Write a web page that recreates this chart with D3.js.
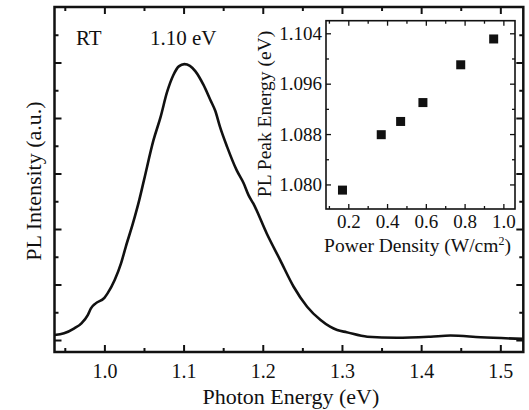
<!DOCTYPE html>
<html>
<head>
<meta charset="utf-8">
<script src="https://cdn.jsdelivr.net/npm/d3@7"></script>
<style>
  body { margin: 0; background: #fff; }
  text { font-family: "Liberation Serif", "Times New Roman", serif; fill: #111; }
</style>
</head>
<body>
<script>
// PL spectrum (photon energy in eV, intensity in arb. units)
var energy = [0.937, 0.949, 0.962, 0.971, 0.979, 0.983, 0.989, 1.000, 1.004, 1.013, 1.021, 1.027,
  1.036, 1.044, 1.050, 1.062, 1.071, 1.079, 1.087, 1.094, 1.101, 1.108, 1.115, 1.125, 1.134,
  1.140, 1.146, 1.155, 1.167, 1.176, 1.182, 1.188, 1.205, 1.222, 1.239, 1.256, 1.273, 1.285,
  1.294, 1.306, 1.332, 1.369, 1.412, 1.437, 1.475, 1.529];
var intensity = [0.09, 0.12, 0.21, 0.30, 0.45, 0.57, 0.66, 0.76, 0.84, 1.08, 1.38, 1.68,
  2.10, 2.52, 2.88, 3.60, 4.02, 4.46, 4.77, 4.93, 4.97, 4.94, 4.84, 4.60, 4.32,
  4.13, 3.84, 3.48, 3.06, 2.82, 2.61, 2.46, 1.92, 1.44, 0.96, 0.60, 0.36, 0.24,
  0.18, 0.14, 0.06, 0.04, 0.06, 0.08, 0.05, 0.02];

// inset: PL peak energy vs excitation power density
var power = [0.17, 0.37, 0.47, 0.585, 0.78, 0.95];
var peakEnergy = [1.0791, 1.0879, 1.0900, 1.0930, 1.0990, 1.1031];

var xMajor = [1.0, 1.1, 1.2, 1.3, 1.4, 1.5];
var xMinor = [0.95, 1.05, 1.15, 1.25, 1.35, 1.45];
var yMajor = [0, 1, 2, 3, 4, 5];
var yMinor = [0.5, 1.5, 2.5, 3.5, 4.5, 5.5];
var insetXMajor = [0.2, 0.4, 0.6, 0.8, 1.0];
var insetXMinor = [0.1, 0.3, 0.5, 0.7, 0.9];
var insetYMajor = [1.080, 1.088, 1.096, 1.104];
var insetYMinor = [1.084, 1.092, 1.100];

var w = 529, h = 410;
var svg = d3.select("body").append("svg").attr("width", w).attr("height", h);

// main plot
var pL = 54.5, pR = 523.3, pT = 7, pB = 352;
var x = d3.scaleLinear().domain([0.937, 1.529]).range([pL, pR]);
var y = d3.scaleLinear().domain([-0.216, 6]).range([pB, pT]);

function ticks(g, axis, vals, size, pad) {
  g.call(axis.tickValues(vals).tickSize(-size).tickPadding(pad || 3))
    .call(function(s) { s.select(".domain").remove(); })
    .selectAll("line").attr("stroke", "#111").attr("stroke-width", 2);
}

var gx = svg.append("g").attr("transform", "translate(0," + pB + ")");
ticks(gx, d3.axisBottom(x).tickFormat(d3.format(".1f")), xMajor, 7, 11.5);
gx.selectAll("text").style("font-size", "20px");
ticks(svg.append("g").attr("transform", "translate(0," + pB + ")"), d3.axisBottom(x).tickFormat(""), xMinor, 4);
ticks(svg.append("g").attr("transform", "translate(0," + pT + ")"), d3.axisTop(x).tickFormat(""), xMajor, 7);
ticks(svg.append("g").attr("transform", "translate(0," + pT + ")"), d3.axisTop(x).tickFormat(""), xMinor, 4);
ticks(svg.append("g").attr("transform", "translate(" + pL + ",0)"), d3.axisLeft(y).tickFormat(""), yMajor, 7);
ticks(svg.append("g").attr("transform", "translate(" + pL + ",0)"), d3.axisLeft(y).tickFormat(""), yMinor, 4);
ticks(svg.append("g").attr("transform", "translate(" + pR + ",0)"), d3.axisRight(y).tickFormat(""), yMajor, 7);
ticks(svg.append("g").attr("transform", "translate(" + pR + ",0)"), d3.axisRight(y).tickFormat(""), yMinor, 4);

svg.append("path")
  .datum(energy.map(function(e, i) { return [e, intensity[i]]; }))
  .attr("d", d3.line().x(function(d) { return x(d[0]); }).y(function(d) { return y(d[1]); }).curve(d3.curveMonotoneX))
  .attr("fill", "none").attr("stroke", "#111").attr("stroke-width", 2.6);

svg.append("rect").attr("x", pL).attr("y", pT).attr("width", pR - pL).attr("height", pB - pT)
  .attr("fill", "none").attr("stroke", "#111").attr("stroke-width", 2.5);

svg.append("text").attr("x", (pL + pR) / 2 + 2).attr("y", 404).attr("text-anchor", "middle")
  .style("font-size", "22px").text("Photon Energy (eV)");
svg.append("text").attr("transform", "translate(41,181) rotate(-90)").attr("text-anchor", "middle")
  .style("font-size", "22px").text("PL Intensity (a.u.)");
svg.append("text").attr("x", 76).attr("y", 45).style("font-size", "21px").text("RT");
svg.append("text").attr("x", 150).attr("y", 45).style("font-size", "21px").text("1.10 eV");

// inset
var iL = 326, iR = 515, iT = 20.7, iB = 209;
var ix = d3.scaleLinear().domain([0.085, 1.06]).range([iL, iR]);
var iy = d3.scaleLinear().domain([1.0761, 1.106]).range([iB, iT]);
var inset = svg.append("g");

function iticks(g, axis, vals, size, pad) {
  g.call(axis.tickValues(vals).tickSize(-size).tickPadding(pad || 3))
    .call(function(s) { s.select(".domain").remove(); })
    .selectAll("line").attr("stroke", "#111").attr("stroke-width", 1.3);
}

var iMinor = insetXMinor.filter(function(v) { return v > 0.09; });
var igx = inset.append("g").attr("transform", "translate(0," + iB + ")");
iticks(igx, d3.axisBottom(ix).tickFormat(d3.format(".1f")), insetXMajor, 5, 5.5);
igx.selectAll("text").style("font-size", "19px");
iticks(inset.append("g").attr("transform", "translate(0," + iB + ")"), d3.axisBottom(ix).tickFormat(""), iMinor, 3);
iticks(inset.append("g").attr("transform", "translate(0," + iT + ")"), d3.axisTop(ix).tickFormat(""), insetXMajor, 5);
iticks(inset.append("g").attr("transform", "translate(0," + iT + ")"), d3.axisTop(ix).tickFormat(""), iMinor, 3);
var igy = inset.append("g").attr("transform", "translate(" + iL + ",0)");
iticks(igy, d3.axisLeft(iy).tickFormat(d3.format(".3f")), insetYMajor, 5, 4);
igy.selectAll("text").style("font-size", "19px");
iticks(inset.append("g").attr("transform", "translate(" + iL + ",0)"), d3.axisLeft(iy).tickFormat(""), insetYMinor, 3);
iticks(inset.append("g").attr("transform", "translate(" + iR + ",0)"), d3.axisRight(iy).tickFormat(""), insetYMajor, 5);
iticks(inset.append("g").attr("transform", "translate(" + iR + ",0)"), d3.axisRight(iy).tickFormat(""), insetYMinor, 3);

inset.selectAll("rect.pt")
  .data(power.map(function(p, i) { return [p, peakEnergy[i]]; }))
  .enter().append("rect").attr("class", "pt")
  .attr("x", function(d) { return ix(d[0]) - 4.5; })
  .attr("y", function(d) { return iy(d[1]) - 4.5; })
  .attr("width", 9).attr("height", 9).attr("fill", "#111");

inset.append("rect").attr("x", iL).attr("y", iT).attr("width", iR - iL).attr("height", iB - iT)
  .attr("fill", "none").attr("stroke", "#111").attr("stroke-width", 1.6);

var xt = inset.append("text").attr("x", (iL + iR) / 2 - 3).attr("y", 251.5).attr("text-anchor", "middle")
  .style("font-size", "19.5px");
xt.append("tspan").text("Power Density (W/cm");
xt.append("tspan").attr("dy", -7).style("font-size", "12px").text("2");
xt.append("tspan").attr("dy", 7).text(")");
inset.append("text").attr("transform", "translate(271,114) rotate(-90)").attr("text-anchor", "middle")
  .style("font-size", "19.5px").text("PL Peak Energy (eV)");
</script>
</body>
</html>
